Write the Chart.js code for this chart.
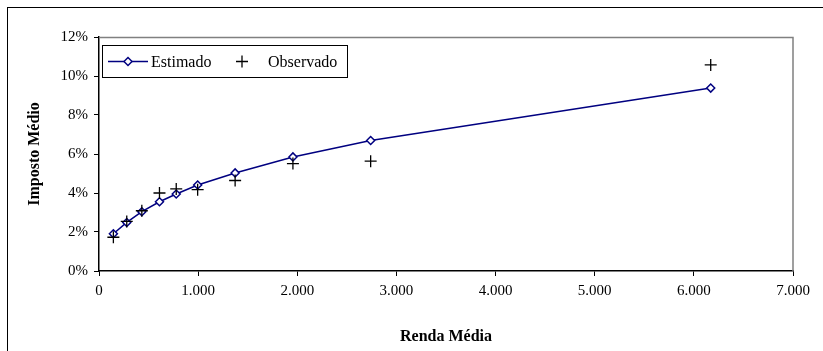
<!DOCTYPE html>
<html>
<head>
<meta charset="utf-8">
<script src="https://cdn.jsdelivr.net/npm/chart.js@4/dist/chart.umd.min.js"></script>
<style>
  html, body { margin: 0; padding: 0; background: #fff; }
  #wrap { width: 823px; height: 351px; position: relative; }
</style>
</head>
<body>
<div id="wrap"><canvas id="c" width="823" height="351"></canvas></div>
<script>
// Renda média (x) and imposto médio (y, fraction)
const rendaEstimado = [145, 280, 432, 610, 779, 995, 1373, 1956, 2740, 6170];
const impostoEstimado = [0.0191, 0.0249, 0.0304, 0.0355, 0.0395, 0.0441, 0.0503, 0.0585, 0.0669, 0.0938];
const rendaObservado = [145, 280, 432, 610, 779, 995, 1373, 1956, 2740, 6170];
const impostoObservado = [0.0173, 0.0254, 0.0309, 0.0400, 0.0421, 0.0417, 0.0464, 0.0551, 0.0563, 0.1057];
const xTicks = [0, 1000, 2000, 3000, 4000, 5000, 6000, 7000];
const yTicks = [0, 0.02, 0.04, 0.06, 0.08, 0.10, 0.12];
const serieNomes = ['Estimado', 'Observado'];

const NAVY = '#000080';
const FONT = '"Liberation Serif", "Times New Roman", serif';

const fmtMil = v => String(Math.round(v)).replace(/\B(?=(\d{3})+(?!\d))/g, '.');

const toPts = (xs, ys) => xs.map((x, i) => ({ x: x, y: ys[i] }));

// Outer frame, plot border and legend box
const decor = {
  id: 'decor',
  afterDraw(chart) {
    const ctx = chart.ctx;
    const a = chart.chartArea;
    ctx.save();
    // outer frame (left / top edges)
    ctx.fillStyle = '#000';
    ctx.fillRect(7, 7, 816, 1);
    ctx.fillRect(7, 7, 1, 344);
    // plot area top/right edges
    ctx.strokeStyle = '#808080';
    ctx.lineWidth = 1.5;
    ctx.beginPath();
    ctx.moveTo(a.left, a.top + 0.5);
    ctx.lineTo(a.right, a.top + 0.5);
    ctx.lineTo(a.right, a.bottom);
    ctx.stroke();

    // legend
    const lx = 102.5, ly = 45.5, lw = 245, lh = 32;
    ctx.fillStyle = '#fff';
    ctx.fillRect(lx, ly, lw, lh);
    ctx.strokeStyle = '#000';
    ctx.lineWidth = 1;
    ctx.strokeRect(lx, ly, lw, lh);
    const cy = ly + lh / 2;
    ctx.strokeStyle = NAVY;
    ctx.lineWidth = 1.5;
    ctx.beginPath();
    ctx.moveTo(108, cy);
    ctx.lineTo(148, cy);
    ctx.stroke();
    ctx.fillStyle = '#fff';
    ctx.beginPath();
    ctx.moveTo(128, cy - 4); ctx.lineTo(132, cy); ctx.lineTo(128, cy + 4); ctx.lineTo(124, cy);
    ctx.closePath(); ctx.fill();
    ctx.strokeStyle = NAVY;
    Chart.helpers.drawPoint(ctx, { pointStyle: 'rectRot', radius: 4, borderWidth: 1.5 }, 128, cy);

    ctx.strokeStyle = '#000';
    ctx.lineWidth = 1.3;
    Chart.helpers.drawPoint(ctx, { pointStyle: 'cross', radius: 6, borderWidth: 1.3 }, 242, cy);

    ctx.fillStyle = '#000';
    ctx.font = '16px ' + FONT;
    ctx.textBaseline = 'middle';
    ctx.textAlign = 'left';
    ctx.fillText(serieNomes[0], 151, cy + 1);
    ctx.fillText(serieNomes[1], 268, cy + 1);
    ctx.restore();
  }
};

new Chart(document.getElementById('c'), {
  type: 'scatter',
  data: {
    datasets: [
      {
        label: serieNomes[0],
        data: toPts(rendaEstimado, impostoEstimado),
        showLine: true,
        borderColor: NAVY,
        borderWidth: 1.5,
        tension: 0,
        pointStyle: 'rectRot',
        pointRadius: 4,
        pointBorderWidth: 1.5,
        pointBorderColor: NAVY,
        pointBackgroundColor: '#fff',
        order: 2
      },
      {
        label: serieNomes[1],
        data: toPts(rendaObservado, impostoObservado),
        showLine: false,
        pointStyle: 'cross',
        pointRadius: 6,
        pointBorderWidth: 1.3,
        pointBorderColor: '#000',
        order: 1
      }
    ]
  },
  options: {
    responsive: false,
    animation: false,
    layout: { padding: { top: 37, right: 30, left: 0, bottom: 0 } },
    plugins: { legend: { display: false }, tooltip: { enabled: false } },
    scales: {
      x: {
        type: 'linear',
        min: 0, max: 7000,
        afterBuildTicks: s => { s.ticks = xTicks.map(v => ({ value: v })); },
        afterFit: s => { s.height = 80; },
        border: { color: '#000', width: 1.5 },
        grid: { drawOnChartArea: false, drawTicks: true, tickLength: 5, color: '#000', tickWidth: 1 },
        ticks: {
          color: '#000', padding: 6, maxRotation: 0,
          font: { family: FONT, size: 15 },
          callback: v => fmtMil(v)
        },
        title: {
          display: true, text: 'Renda Média', color: '#000',
          font: { family: FONT, size: 16, weight: 'bold' },
          padding: { top: 0, bottom: 5 }
        }
      },
      y: {
        type: 'linear',
        min: 0, max: 0.12,
        afterBuildTicks: s => { s.ticks = yTicks.map(v => ({ value: v })); },
        afterFit: s => { s.width = 99; },
        border: { color: '#000', width: 1.5 },
        grid: { drawOnChartArea: false, drawTicks: true, tickLength: 5, color: '#000', tickWidth: 1 },
        ticks: {
          color: '#000', padding: 6,
          font: { family: FONT, size: 15 },
          callback: v => Math.round(v * 100) + '%'
        },
        title: {
          display: true, text: 'Imposto Médio', color: '#000',
          font: { family: FONT, size: 16, weight: 'bold' },
          padding: { top: 25, bottom: 0 }
        }
      }
    }
  },
  plugins: [decor]
});
</script>
</body>
</html>
